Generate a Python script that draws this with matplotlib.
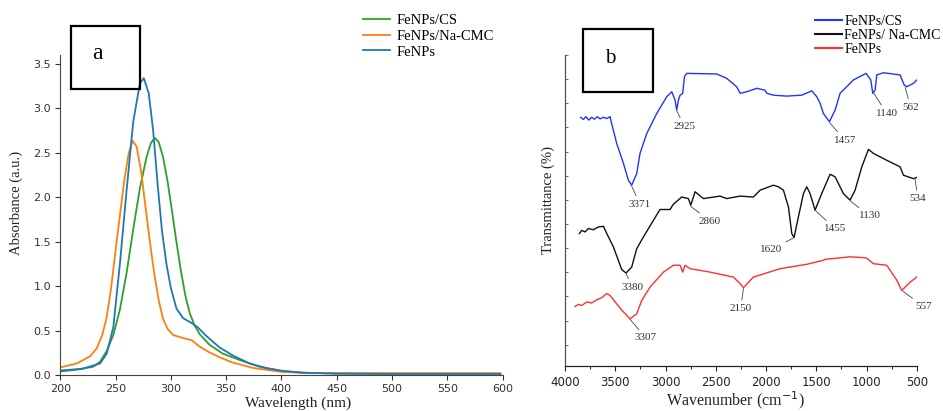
import matplotlib
matplotlib.use('Agg')
import matplotlib.pyplot as plt
from matplotlib.patches import Rectangle
from matplotlib.ticker import MultipleLocator, FormatStrFormatter

SERIF = ['Liberation Serif', 'DejaVu Serif']

# ---------------- Panel a: UV-Vis absorbance ----------------
wl_cs = [200, 215, 230, 236, 242, 248, 254, 260, 266, 272, 278, 282, 285.5, 289, 293, 297,
         301, 305, 309, 313, 317, 321, 326, 335, 347, 362, 380, 400, 420, 450, 500, 550, 598]
abs_cs = [0.04, 0.06, 0.094, 0.15, 0.27, 0.45, 0.74, 1.15, 1.64, 2.10, 2.45, 2.61, 2.667, 2.62,
          2.45, 2.18, 1.85, 1.50, 1.18, 0.90, 0.70, 0.57, 0.46, 0.34, 0.24, 0.17, 0.094, 0.045,
          0.025, 0.018, 0.015, 0.015, 0.015]

wl_cmc = [200, 215, 227, 233, 238, 242, 246, 250, 254, 258, 262, 265.5, 269, 273, 277, 281, 285,
          289, 293, 297, 302, 310, 319, 326, 334, 344, 356, 374, 400, 420, 450, 500, 550, 598]
abs_cmc = [0.085, 0.13, 0.21, 0.30, 0.45, 0.65, 0.98, 1.40, 1.80, 2.20, 2.50, 2.636, 2.57, 2.30,
           1.90, 1.50, 1.14, 0.84, 0.63, 0.52, 0.45, 0.42, 0.39, 0.32, 0.26, 0.20, 0.14, 0.08,
           0.035, 0.025, 0.02, 0.02, 0.02, 0.02]

wl_fe = [200, 220, 236, 242, 248, 254, 260, 266, 272, 275.5, 280, 284, 288, 292, 296, 300, 305,
         311, 318, 324, 332, 344, 356, 371, 387, 402, 420, 450, 500, 550, 598]
abs_fe = [0.05, 0.07, 0.13, 0.24, 0.54, 1.26, 2.08, 2.85, 3.28, 3.34, 3.17, 2.75, 2.15, 1.62, 1.25,
          0.98, 0.75, 0.64, 0.59, 0.54, 0.44, 0.31, 0.22, 0.13, 0.075, 0.045, 0.025, 0.015, 0.012,
          0.012, 0.012]

uv_labels = ['FeNPs/CS', 'FeNPs/Na-CMC', 'FeNPs']

# ---------------- Panel b: FTIR transmittance (arbitrary offsets) ----------------
wn_cs = [3844, 3818, 3791, 3764, 3735, 3708, 3678, 3652, 3618, 3585, 3552, 3536, 3486, 3419, 3370,
         3337, 3287, 3254, 3187, 3088, 2988, 2938, 2905, 2889, 2872, 2855, 2829, 2812, 2789, 2491,
         2391, 2292, 2258, 2192, 2092, 2010, 1993, 1927, 1794, 1645, 1545, 1495, 1462, 1429, 1369,
         1313, 1263, 1130, 1004, 958, 938, 915, 898, 832, 666, 626, 600, 533, 467, 450]
tr_cs = [80.0, 79.3, 80.2, 79.1, 80.0, 79.4, 80.2, 79.5, 80.0, 79.6, 80.2, 78.0, 71.6, 65.2, 59.8,
         58.2, 61.9, 68.4, 74.8, 81.2, 86.6, 88.2, 85.5, 82.3, 85.5, 87.1, 87.7, 93.0, 94.1, 93.9,
         92.5, 89.8, 87.7, 88.2, 89.3, 88.7, 87.7, 87.1, 86.8, 87.1, 88.5, 86.6, 84.5, 81.2, 78.6,
         82.3, 87.7, 92.0, 94.1, 92.0, 87.7, 88.7, 93.6, 94.3, 93.6, 90.4, 89.8, 90.9, 93.0, 91.4]

wn_cmc = [3857, 3834, 3801, 3768, 3718, 3668, 3618, 3585, 3519, 3436, 3393, 3337, 3287, 3220, 3121,
          3055, 2955, 2922, 2839, 2773, 2749, 2706, 2623, 2457, 2391, 2258, 2126, 2059, 1927, 1877,
          1827, 1777, 1744, 1721, 1678, 1628, 1595, 1562, 1512, 1446, 1363, 1313, 1230, 1164, 1114,
          1047, 981, 931, 799, 666, 633, 533, 483, 450]
tr_cmc = [42.7, 43.7, 43.2, 44.3, 43.9, 44.8, 45.0, 42.7, 38.4, 31.1, 30.0, 31.9, 37.8, 41.6, 46.9,
          50.4, 50.4, 52.1, 54.4, 53.9, 51.8, 56.1, 53.9, 54.7, 53.9, 54.7, 54.4, 56.6, 58.2, 57.7,
          56.6, 51.2, 42.7, 41.4, 48.0, 55.5, 57.7, 55.5, 50.2, 55.5, 61.7, 60.9, 55.5, 53.4, 56.6,
          64.1, 69.7, 68.4, 66.2, 64.1, 61.4, 60.3, 60.9, 61.7]

wn_fe = [3900, 3867, 3834, 3784, 3735, 3685, 3635, 3585, 3552, 3486, 3419, 3353, 3287, 3237, 3154,
         3021, 2922, 2855, 2829, 2806, 2756, 2557, 2325, 2258, 2225, 2126, 1860, 1595, 1429, 1412,
         1164, 1004, 931, 799, 699, 649, 566, 500, 467, 460]
tr_fe = [19.3, 19.9, 19.6, 20.7, 20.4, 21.4, 22.1, 23.4, 22.8, 20.1, 17.5, 15.3, 16.9, 21.2, 25.5,
         30.3, 32.5, 32.5, 30.3, 32.5, 31.4, 30.3, 28.7, 26.6, 25.3, 28.7, 31.4, 32.8, 34.1, 34.4,
         35.2, 34.9, 33.0, 32.5, 27.7, 24.4, 27.1, 28.7, 29.8, 27.7]

ir_labels = ['FeNPs/CS', 'FeNPs/ Na-CMC', 'FeNPs']

# peak annotations: label, peak position (wn, T), text position (wn, T)
peak_text = ['3371', '2925', '1457', '1140', '562', '2860', '1620', '1455', '1130', '534',
             '3380', '2150', '557', '3307']
peak_xy = [(3337, 57.9), (2889, 82.1), (1369, 78.3), (931, 87.9), (616, 89.6), (2749, 51.4),
           (1721, 41.4), (1512, 50.2), (1164, 53.2), (516, 60.1), (3393, 29.8), (2225, 25.1),
           (639, 24.2), (3353, 15.1)]
peak_txt = [(3254, 52.1), (2812, 77.2), (1213, 72.7), (799, 81.2), (560, 83.2), (2557, 46.7),
            (1950, 37.5), (1313, 44.2), (971, 48.4), (490, 53.8), (3327, 25.5), (2252, 18.5),
            (434, 19.3), (3194, 9.2)]

fig = plt.figure(figsize=(9.43, 4.11), dpi=100)

# ---------------- axes a ----------------
axa = fig.add_axes([0.0639, 0.0876, 0.4691, 0.7786])
ca = ['#2ca02c', '#ff7f0e', '#1f77b4']
axa.plot(wl_cs, abs_cs, color=ca[0], lw=1.3, label=uv_labels[0])
axa.plot(wl_cmc, abs_cmc, color=ca[1], lw=1.3, label=uv_labels[1])
axa.plot(wl_fe, abs_fe, color=ca[2], lw=1.3, label=uv_labels[2])
axa.set_xlim(200, 600)
axa.set_ylim(0, 3.6)
axa.xaxis.set_major_locator(MultipleLocator(50))
axa.yaxis.set_major_locator(MultipleLocator(0.5))
axa.yaxis.set_major_formatter(FormatStrFormatter('%.1f'))
for s in ['top', 'right']:
    axa.spines[s].set_visible(False)
for s in ['left', 'bottom']:
    axa.spines[s].set_color('#444444')
    axa.spines[s].set_linewidth(0.8)
axa.tick_params(axis='both', labelsize=8, colors='#333333', length=3.5, width=0.8, pad=3)
axa.set_xlabel('Wavelength (nm)', family=SERIF, fontsize=11, color='#222222')
axa.xaxis.set_label_coords(0.537, -0.068)
axa.set_ylabel('Absorbance (a.u.)', family=SERIF, fontsize=10.5, color='#222222')
axa.yaxis.set_label_coords(-0.084, 0.539)
la = axa.legend(loc='upper left', bbox_to_anchor=(0.385, 0.966), bbox_transform=fig.transFigure,
                frameon=False, borderaxespad=0, borderpad=0, handlelength=1.85,
                handletextpad=0.45, labelspacing=0.17, prop={'family': SERIF, 'size': 10.5})

fig.patches.append(Rectangle((0.0753, 0.7827), 0.0732, 0.154, transform=fig.transFigure,
                             fill=False, edgecolor='black', lw=1.6))
fig.text(91.7 / 943, 1 - 59.3 / 411, 'a', family=SERIF, fontsize=17, va='baseline', ha='left')

# ---------------- axes b ----------------
axb = fig.add_axes([0.5992, 0.1083, 0.3730, 0.7579])
axb.plot(wn_cs, tr_cs, color='#2233ff', lw=1.0, label=ir_labels[0])
axb.plot(wn_cmc, tr_cmc, color='#111111', lw=1.0, label=ir_labels[1])
axb.plot(wn_fe, tr_fe, color='#ff3030', lw=1.0, label=ir_labels[2])
axb.set_xlim(4000, 500)
axb.set_ylim(0, 100)
axb.xaxis.set_major_locator(MultipleLocator(500))
axb.xaxis.set_minor_locator(MultipleLocator(250))
axb.set_yticks([7.0 + 7.75 * k for k in range(13)])
axb.set_yticklabels([])
for s in ['top', 'right']:
    axb.spines[s].set_visible(False)
axb.spines['left'].set_color('#555555')
axb.spines['bottom'].set_color('#222222')
axb.spines['left'].set_linewidth(0.9)
axb.spines['bottom'].set_linewidth(0.9)
axb.tick_params(axis='x', which='major', labelsize=8.5, colors='#222222', length=3.5,
                width=0.8, direction='out', pad=3.5)
axb.tick_params(axis='x', which='minor', length=2, width=0.7, direction='out', colors='#222222')
axb.tick_params(axis='y', which='major', length=2.5, width=0.6, direction='in', colors='#555555')
axb.set_xlabel('Wavenumber (cm$^{-1}$)', family=SERIF, fontsize=11.5, color='#222222')
axb.xaxis.set_label_coords(0.483, -0.072)
axb.set_ylabel('Transmittance (%)', family=SERIF, fontsize=10.5, color='#222222')
axb.yaxis.set_label_coords(-0.028, 0.534)

for t, xy, xt in zip(peak_text, peak_xy, peak_txt):
    axb.annotate(t, xy=xy, xytext=xt, textcoords='data', ha='center', va='center',
                 family=SERIF, fontsize=8, color='#333333',
                 arrowprops=dict(arrowstyle='-', lw=0.6, color='#444444', shrinkA=1, shrinkB=0))

lb = axb.legend(loc='upper left', bbox_to_anchor=(0.8643, 0.963), bbox_transform=fig.transFigure,
                frameon=False, borderaxespad=0, borderpad=0, handlelength=1.95,
                handletextpad=0.15, labelspacing=0.05, prop={'family': SERIF, 'size': 10})
for h in lb.get_lines():
    h.set_linewidth(1.5)

fig.patches.append(Rectangle((0.6186, 0.7754), 0.0742, 0.1533, transform=fig.transFigure,
                             fill=False, edgecolor='black', lw=1.6))
fig.text(605 / 943, 1 - 62.7 / 411, 'b', family=SERIF, fontsize=15, va='baseline', ha='left')

fig.savefig('out.png', dpi=100)
